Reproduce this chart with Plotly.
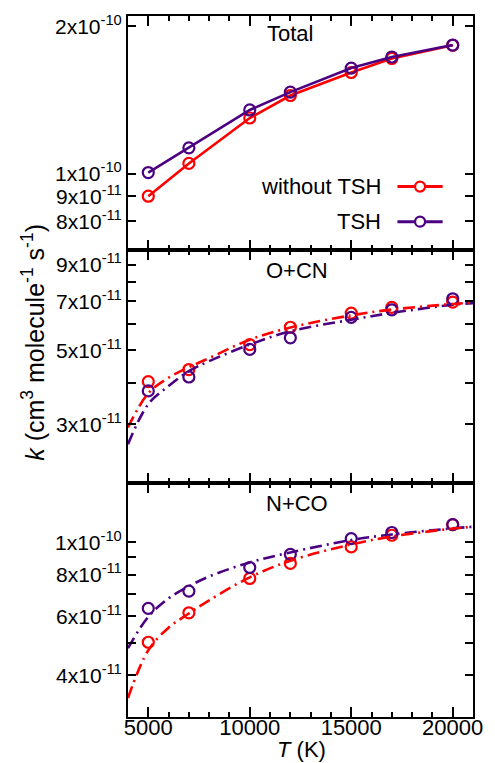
import numpy as np
import plotly.graph_objects as go
from plotly.subplots import make_subplots

# ---------------- data ----------------
T = [5000, 7000, 10000, 12000, 15000, 17000, 20000]

total_without = [9.0e-11, 1.05e-10, 1.30e-10, 1.445e-10, 1.61e-10, 1.72e-10, 1.83e-10]
total_tsh = [1.006e-10, 1.13e-10, 1.35e-10, 1.468e-10, 1.644e-10, 1.732e-10, 1.832e-10]

ocn_without = [4.03e-11, 4.38e-11, 5.2e-11, 5.86e-11, 6.46e-11, 6.72e-11, 6.97e-11]
ocn_tsh = [3.78e-11, 4.16e-11, 5.03e-11, 5.45e-11, 6.27e-11, 6.61e-11, 7.13e-11]

nco_without = [5.02e-11, 6.15e-11, 7.79e-11, 8.64e-11, 9.68e-11, 1.049e-10, 1.129e-10]
nco_tsh = [6.34e-11, 7.14e-11, 8.4e-11, 9.2e-11, 1.025e-10, 1.069e-10, 1.129e-10]

T_fit = [4000, 5000, 6000, 7000, 8000, 10000, 12000, 15000, 17000, 20000, 21000]
ocn_fit_without = [2.94e-11, 3.72e-11, 4.14e-11, 4.45e-11, 4.74e-11, 5.38e-11, 5.85e-11, 6.36e-11, 6.62e-11, 6.88e-11, 6.95e-11]
ocn_fit_tsh = [2.62e-11, 3.45e-11, 3.91e-11, 4.33e-11, 4.64e-11, 5.2e-11, 5.7e-11, 6.17e-11, 6.47e-11, 6.84e-11, 6.92e-11]
nco_fit_without = [3.42e-11, 4.75e-11, 5.55e-11, 6.12e-11, 6.7e-11, 7.85e-11, 8.8e-11, 9.85e-11, 1.04e-10, 1.098e-10, 1.112e-10]
nco_fit_tsh = [4.82e-11, 5.98e-11, 6.79e-11, 7.38e-11, 7.9e-11, 8.7e-11, 9.32e-11, 1.015e-10, 1.055e-10, 1.10e-10, 1.112e-10]

x_ticks = [5000, 10000, 15000, 20000]
x_text = ["5000", "10000", "15000", "20000"]
y1_ticks = [8e-11, 9e-11, 1e-10, 2e-10]
y1_text = ["8x10<sup>-11</sup>", "9x10<sup>-11</sup>", "1x10<sup>-10</sup>", "2x10<sup>-10</sup>"]
y2_ticks = [3e-11, 4e-11, 5e-11, 6e-11, 7e-11, 8e-11, 9e-11]
y2_text = ["3x10<sup>-11</sup>", "", "5x10<sup>-11</sup>", "", "7x10<sup>-11</sup>", "", "9x10<sup>-11</sup>"]
y3_ticks = [4e-11, 5e-11, 6e-11, 7e-11, 8e-11, 9e-11, 1e-10]
y3_text = ["4x10<sup>-11</sup>", "", "6x10<sup>-11</sup>", "", "8x10<sup>-11</sup>", "", "1x10<sup>-10</sup>"]

RED = "#ff0000"
PUR = "#4b0082"
FONT = "Liberation Sans"
FS = 22
DASH = "12px,5px,2px,5px"

fig = make_subplots(rows=3, cols=1, shared_xaxes=True, vertical_spacing=0)

mk = dict(symbol="circle-open", size=11, line=dict(width=2.2))

# panel 1
fig.add_trace(go.Scatter(x=T, y=total_without, mode="lines+markers",
                         line=dict(color=RED, width=2.6), marker=dict(color=RED, **mk),
                         showlegend=False), row=1, col=1)
fig.add_trace(go.Scatter(x=T, y=total_tsh, mode="lines+markers",
                         line=dict(color=PUR, width=2.6), marker=dict(color=PUR, **mk),
                         showlegend=False), row=1, col=1)

# panels 2, 3
for row, fw, ft, dw, dt in [(2, ocn_fit_without, ocn_fit_tsh, ocn_without, ocn_tsh),
                            (3, nco_fit_without, nco_fit_tsh, nco_without, nco_tsh)]:
    fig.add_trace(go.Scatter(x=T, y=dw, mode="markers", marker=dict(color=RED, **mk),
                             showlegend=False), row=row, col=1)
    fig.add_trace(go.Scatter(x=T, y=dt, mode="markers", marker=dict(color=PUR, **mk),
                             showlegend=False), row=row, col=1)
    fig.add_trace(go.Scatter(x=T_fit, y=ft, mode="lines", line=dict(color=PUR, width=2.6, dash=DASH, shape="spline"),
                             showlegend=False), row=row, col=1)
    fig.add_trace(go.Scatter(x=T_fit, y=fw, mode="lines", line=dict(color=RED, width=2.6, dash=DASH, shape="spline"),
                             showlegend=False), row=row, col=1)

axis_common = dict(showline=True, linewidth=2, linecolor="black", mirror="ticks",
                   ticks="inside", tickcolor="black", tickwidth=1.6, showgrid=False, zeroline=False)

for r in (1, 2, 3):
    fig.update_xaxes(range=[4000, 21000], tickmode="array", tickvals=x_ticks, ticktext=x_text, ticklen=10,
                     minor=dict(dtick=1000, tick0=0, ticks="inside", ticklen=5, tickwidth=1.6, tickcolor="black"),
                     showticklabels=(r == 3), tickfont=dict(family=FONT, size=FS, color="black"),
                     ticklabelstandoff=-10, **axis_common, row=r, col=1)

ytf = dict(family=FONT, size=21, color="black")
fig.update_yaxes(type="log", range=[np.log10(7e-11), np.log10(2.1e-10)], tickmode="array",
                 tickvals=y1_ticks, ticktext=y1_text, ticklen=8, tickfont=ytf, **axis_common, row=1, col=1)
fig.update_yaxes(type="log", range=[np.log10(2e-11), np.log10(1e-10)], tickmode="array",
                 tickvals=y2_ticks, ticktext=y2_text, ticklen=8, tickfont=ytf, **axis_common, row=2, col=1)
fig.update_yaxes(type="log", range=[np.log10(3e-11), np.log10(1.5e-10)], tickmode="array",
                 tickvals=y3_ticks, ticktext=y3_text, ticklen=8, tickfont=ytf, **axis_common, row=3, col=1)

tf = dict(family=FONT, size=FS, color="black")
ann = [
    dict(text="Total", x=0.47, y=0.923, xref="x domain", yref="y domain", xanchor="center", yanchor="middle",
         showarrow=False, font=tf),
    dict(text="O+CN", x=0.49, y=0.91, xref="x2 domain", yref="y2 domain", xanchor="center", yanchor="middle",
         showarrow=False, font=tf),
    dict(text="N+CO", x=0.49, y=0.915, xref="x3 domain", yref="y3 domain", xanchor="center", yanchor="middle",
         showarrow=False, font=tf),
    dict(text="without TSH", x=0.74, y=0.27, xref="x domain", yref="y domain", xanchor="right", yanchor="middle",
         showarrow=False, font=tf),
    dict(text="TSH", x=0.74, y=0.12, xref="x domain", yref="y domain", xanchor="right", yanchor="middle",
         showarrow=False, font=tf),
    dict(text="<i>k</i> (cm<sup>3</sup> molecule<sup>-1</sup> s<sup>-1</sup>)", textangle=-90,
         x=-0.275, y=0.534, xref="paper", yref="paper", xanchor="center", yanchor="middle",
         showarrow=False, font=dict(family=FONT, size=25, color="black")),
    dict(text="<i>T</i> (K)", x=0.503, y=-0.046, xref="paper", yref="paper", xanchor="center", yanchor="middle",
         showarrow=False, font=tf),
]

shapes = []
for yy, col in [(0.27, RED), (0.12, PUR)]:
    shapes.append(dict(type="line", xref="x domain", yref="y domain", x0=0.781, x1=0.912, y0=yy, y1=yy,
                       line=dict(color=col, width=3)))
    shapes.append(dict(type="circle", xref="x domain", yref="y domain", xsizemode="pixel", ysizemode="pixel",
                       xanchor=0.8466, yanchor=yy, x0=-5, x1=5, y0=-5, y1=5,
                       line=dict(color=col, width=2.2), fillcolor="white"))

fig.update_layout(width=495, height=763, margin=dict(l=128, r=15, t=15, b=46),
                  paper_bgcolor="white", plot_bgcolor="white", annotations=ann, shapes=shapes,
                  font=dict(family=FONT, size=FS, color="black"), showlegend=False)

fig.write_html("out.html", config={"displayModeBar": False},
               post_script="document.body.style.margin='0';document.body.style.padding='0';"
                           "document.body.style.overflow='hidden';")
